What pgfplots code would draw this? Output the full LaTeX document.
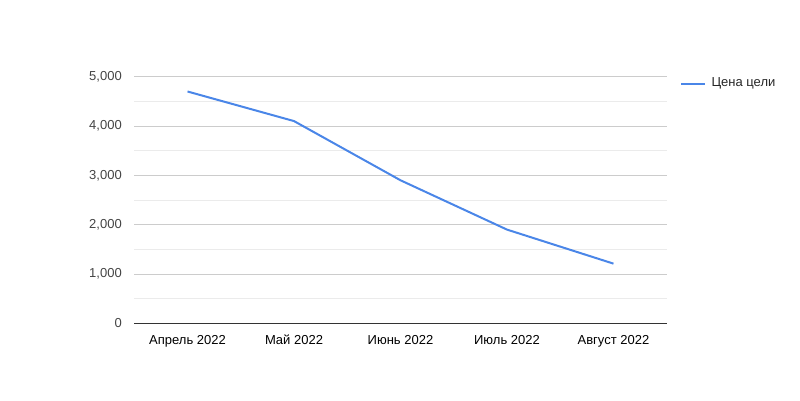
\documentclass[border=0pt]{standalone}
\usepackage{pgfplots}
\pgfplotsset{compat=1.18}
\usepackage{fontspec}
\setmainfont{Liberation Sans}
\definecolor{lineblue}{HTML}{4A86E8}
\definecolor{majgrid}{HTML}{CCCCCC}
\definecolor{mingrid}{HTML}{EBEBEB}
\definecolor{labgray}{HTML}{444444}
\begin{document}
\begin{tikzpicture}[x=1pt,y=1pt]
\useasboundingbox (0,0) rectangle (800,400);
\begin{axis}[
  at={(134.3pt,76.7pt)}, anchor=south west,
  scale only axis, width=532.4pt, height=246.6pt,
  xmin=-0.5, xmax=4.5, ymin=0, ymax=5000,
  xtick={0,1,2,3,4},
  xticklabels={Апрель 2022, Май 2022, Июнь 2022, Июль 2022, Август 2022},
  ytick={0,1000,2000,3000,4000,5000},
  minor ytick={500,1500,2500,3500,4500},
  ymajorgrids, yminorgrids,
  major grid style={majgrid, line width=0.8pt},
  minor grid style={mingrid, line width=0.8pt},
  axis x line*=bottom, axis y line*=left,
  x axis line style={draw=black!80, line width=0.8pt, -},
  y axis line style={draw=none},
  major tick length=0pt, minor tick length=0pt,
  tick style={draw=none},
  /pgf/number format/assume math mode=true,
  /pgf/number format/1000 sep={,},
  scaled y ticks=false,
  yticklabel style={font=\fontsize{13}{15}\selectfont, text=labgray, xshift=-9pt},
  xticklabel style={font=\fontsize{13}{15}\selectfont, text=black, anchor=north, text height=9.5pt, text depth=3pt, yshift=-8pt},
  clip=false,
]
\addplot[lineblue, line width=2pt, line join=round] coordinates {
  (0,4700) (1,4100) (2,2900) (3,1900) (4,1210)
};
\end{axis}
\draw[lineblue, line width=2pt] (681,316) -- (705,316);
\node[anchor=west, font=\fontsize{13}{15}\selectfont, text=black!85] at (708,316.5) {Цена цели};
\end{tikzpicture}
\end{document}
